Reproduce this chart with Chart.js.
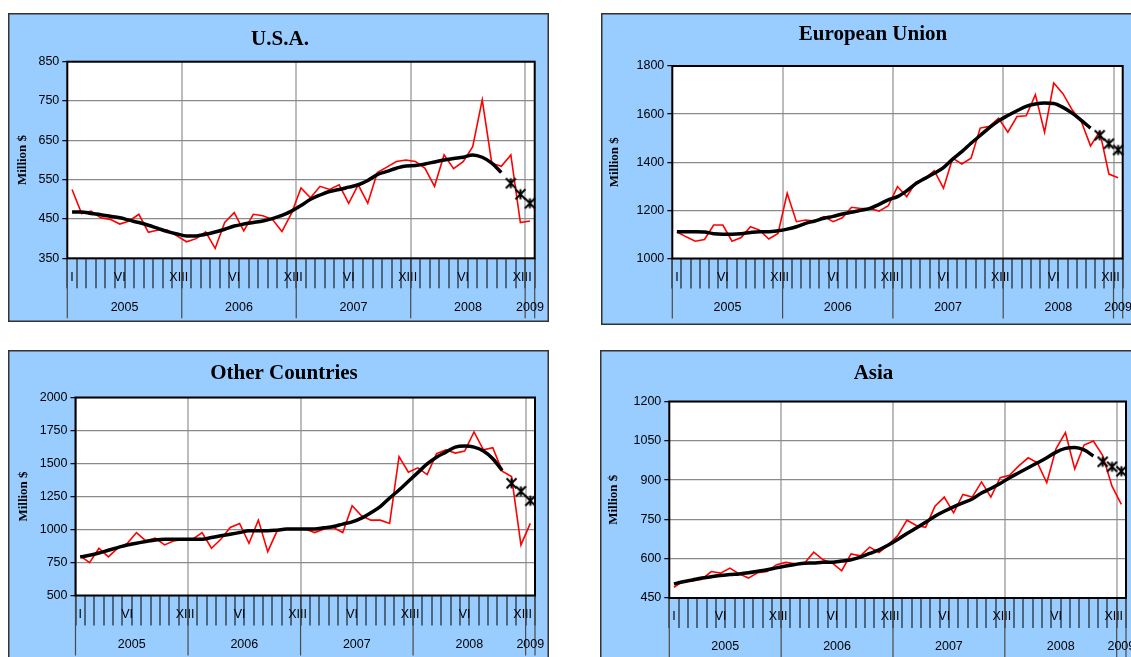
<!DOCTYPE html>
<html>
<head>
<meta charset="utf-8">
<script src="https://cdn.jsdelivr.net/npm/chart.js"></script>
<style>
html,body{margin:0;padding:0;background:#ffffff;overflow:hidden;width:1131px;height:657px;}
canvas{position:absolute;}
</style>
</head>
<body>
<canvas id="cUSA"></canvas>
<canvas id="cEU"></canvas>
<canvas id="cOther"></canvas>
<canvas id="cAsia"></canvas>
<script>
// ---------------- DATA ----------------
const monthNames = ['I','II','III','IV','V','VI','VII','VIII','IX','X','XI','XII'];
const years = ['2005','2006','2007','2008','2009'];
const monthsPerYear = [12, 12, 12, 12, 1];
const shownMonths = ['I','VI','XII'];

const usaMonthly = [525,464,470,453,449,437,445,462,416,422,422,407,392,400,417,375,441,466,420,462,458,449,418,464,529,504,533,525,537,490,537,490,568,582,596,600,596,579,533,613,578,596,634,753,592,584,613,441,445];
const usaTrend = [468,468,464,461,457,453,447,441,434,426,418,412,407,407,411,417,424,432,437,441,445,451,459,470,484,500,511,520,525,531,537,548,563,571,579,585,586,590,595,600,604,607,613,607,592,568];
const usaForecast = [541,513,490];
const usaYTicks = [350,450,550,650,750,850];

const euMonthly = [1111,1090,1072,1079,1139,1139,1072,1087,1132,1118,1081,1104,1271,1153,1160,1156,1174,1153,1169,1213,1208,1208,1197,1219,1299,1257,1317,1333,1365,1292,1417,1393,1417,1542,1549,1583,1525,1590,1593,1681,1525,1729,1685,1618,1569,1468,1528,1351,1336];
const euTrend = [1111,1111,1111,1110,1103,1101,1101,1103,1108,1111,1111,1115,1122,1132,1146,1156,1167,1175,1185,1192,1200,1208,1225,1244,1257,1281,1311,1333,1354,1378,1413,1444,1479,1511,1544,1572,1594,1614,1632,1642,1646,1644,1628,1604,1574,1542];
const euForecast = [1512,1477,1451];
const euYTicks = [1000,1200,1400,1600,1800];

const otherMonthly = [800,749,858,792,858,893,977,914,934,883,914,926,926,977,858,926,1015,1046,896,1071,832,990,1003,1003,1003,977,1003,1015,977,1180,1104,1071,1071,1046,1553,1434,1467,1416,1574,1604,1579,1594,1739,1604,1619,1442,1401,883,1046];
const otherTrend = [792,805,822,843,863,883,896,909,921,926,926,926,926,926,939,952,964,977,990,990,990,995,1003,1003,1003,1003,1013,1023,1041,1058,1086,1127,1173,1239,1299,1365,1431,1497,1548,1586,1624,1632,1624,1594,1536,1447];
const otherForecast = [1350,1289,1218];
const otherYTicks = [500,750,1000,1250,1500,1750,2000];

const asiaMonthly = [491,515,515,522,551,545,564,542,526,547,551,577,586,581,583,625,596,583,554,618,611,644,624,653,688,747,727,720,800,835,775,845,835,893,835,909,918,954,985,966,890,1020,1081,943,1034,1049,994,877,807];
const asiaTrend = [504,512,519,526,531,536,540,542,546,552,558,565,572,578,583,584,586,586,591,596,606,620,634,652,673,696,717,739,762,781,798,813,828,851,868,887,909,928,947,966,985,1007,1021,1024,1015,992];
const asiaForecast = [970,951,934];
const asiaYTicks = [450,600,750,900,1050,1200];

// category labels built from months/years
const categories = [];
years.forEach((y, yi) => { for (let m = 0; m < monthsPerYear[yi]; m++) categories.push(monthNames[m]); });

// ---------------- LAYOUT (page px) ----------------
const layoutUSA   = {box:[8,13,549,322],   plot:[67.3,61.7,534.7,258.3],  titleX:280,   titleY:40,    yLabX:22.5};
const layoutEU    = {box:[601,13,1142,325], plot:[672.3,66,1122.7,258.5], titleX:873,   titleY:34.5,  yLabX:615};
const layoutOther = {box:[8,350,549,662],  plot:[75.5,397.5,535,595.5],   titleX:284,   titleY:373.5, yLabX:24};
const layoutAsia  = {box:[600,350,1141,662], plot:[669.3,401.5,1126,598], titleX:873.5, titleY:373.8, yLabX:614};

const SANS = "'Liberation Sans', Arial, sans-serif";
const SERIF = "'Liberation Serif', 'Times New Roman', serif";
Chart.defaults.font.family = SANS;
Chart.defaults.color = '#000';

function makeStar() {
  const c = document.createElement('canvas');
  c.width = 13; c.height = 13;
  const g = c.getContext('2d');
  g.strokeStyle = '#000'; g.lineWidth = 2;
  g.lineCap = 'butt';
  g.beginPath();
  g.moveTo(1.5, 1.5); g.lineTo(11.5, 11.5);
  g.moveTo(11.5, 1.5); g.lineTo(1.5, 11.5);
  g.moveTo(6.5, 1.5); g.lineTo(6.5, 11.5);
  g.stroke();
  return c;
}
const starImg = makeStar();

const panelPlugin = {
  id: 'panelDeco',
  beforeDraw(chart) {
    const {ctx, width, height, chartArea: a} = chart;
    ctx.save();
    ctx.fillStyle = '#99ccff';
    ctx.fillRect(0, 0, width, height);
    ctx.fillStyle = '#ffffff';
    ctx.fillRect(a.left, a.top, a.right - a.left, a.bottom - a.top);
    ctx.strokeStyle = '#333333';
    ctx.lineWidth = 1.5;
    ctx.strokeRect(0.75, 0.75, width - 1.5, height - 1.5);
    ctx.restore();
  },
  afterDraw(chart) {
    const {ctx, chartArea: a} = chart;
    const xs = chart.scales.x;
    ctx.save();
    // year boundary lines
    ctx.strokeStyle = '#4a4a4a';
    ctx.lineWidth = 1.2;
    const bounds = [0];
    let acc = 0;
    monthsPerYear.forEach(n => { acc += n; bounds.push(acc); });
    bounds.forEach(b => {
      const x = xs.getPixelForValue(b - 0.5);
      ctx.beginPath(); ctx.moveTo(x, a.bottom); ctx.lineTo(x, a.bottom + 60); ctx.stroke();
    });
    // year labels
    ctx.fillStyle = '#000';
    ctx.font = '12.5px ' + SANS;
    ctx.textAlign = 'center';
    ctx.textBaseline = 'middle';
    let start = 0;
    years.forEach((y, yi) => {
      const first = start, last = start + monthsPerYear[yi] - 1;
      const cx = (xs.getPixelForValue(first) + xs.getPixelForValue(last)) / 2;
      ctx.fillText(y, cx, a.bottom + 49);
      start += monthsPerYear[yi];
    });
    // plot border
    ctx.strokeStyle = '#000';
    ctx.lineWidth = 2;
    ctx.strokeRect(a.left, a.top, a.right - a.left, a.bottom - a.top);
    ctx.restore();
  }
};

function makePanel(id, L, title, monthly, trend, forecast, yTicks) {
  const W = L.box[2] - L.box[0], H = L.box[3] - L.box[1];
  const cv = document.getElementById(id);
  cv.width = W; cv.height = H;
  cv.style.left = L.box[0] + 'px'; cv.style.top = L.box[1] + 'px';
  cv.style.width = W + 'px'; cv.style.height = H + 'px';

  const plotL = L.plot[0] - L.box[0], plotT = L.plot[1] - L.box[1];
  const plotR = L.plot[2] - L.box[0], plotB = L.plot[3] - L.box[1];
  const padL = 2 * (L.titleX - L.box[0]) - W;
  const tSize = 21, tLH = tSize * 1.2;
  const tPadTop = (L.titleY - L.box[1]) - tLH / 2;
  const tPadBot = plotT - tPadTop - tLH;
  const ySize = 13, yLH = ySize * 1.2;
  const yTitlePad = (L.yLabX - L.box[0]) - padL - yLH / 2;
  const tickFont = 12.5, tickLH = tickFont * 1.2;
  const xLabPad = 19 - 30 - tickLH / 2;

  const forecastData = new Array(monthly.length - forecast.length).fill(null).concat(forecast);

  return new Chart(cv, {
    type: 'line',
    data: {
      labels: categories,
      datasets: [
        {label: 'Trend', data: trend, borderColor: '#000', borderWidth: 3.5, pointRadius: 0,
         cubicInterpolationMode: 'monotone', fill: false},
        {label: 'Forecast', data: forecastData, showLine: false, pointStyle: starImg, pointRadius: 6,
         borderColor: '#000', backgroundColor: '#000', clip: 10},
        {label: 'Monthly', data: monthly, borderColor: '#ff0000', borderWidth: 1.6, pointRadius: 0,
         tension: 0, fill: false}
      ]
    },
    options: {
      responsive: false,
      maintainAspectRatio: false,
      devicePixelRatio: 1,
      animation: false,
      events: [],
      layout: {padding: {left: padL, right: 0, top: 0, bottom: 0}},
      plugins: {
        legend: {display: false},
        tooltip: {enabled: false},
        title: {display: true, text: title, color: '#000',
                font: {family: SERIF, size: tSize, weight: 'bold', lineHeight: 1.2},
                padding: {top: tPadTop, bottom: tPadBot}}
      },
      scales: {
        x: {
          type: 'category',
          offset: true,
          border: {display: false},
          grid: {
            offset: true,
            drawOnChartArea: true,
            color: c => (c.index % 12 === 0 ? '#bdbdbd' : 'rgba(0,0,0,0)'),
            lineWidth: 2,
            tickColor: '#000',
            tickWidth: 1,
            tickLength: 30
          },
          ticks: {
            autoSkip: false, maxRotation: 0, minRotation: 0,
            padding: xLabPad,
            font: {size: tickFont, lineHeight: 1.2},
            color: '#000',
            callback: (v, i) => (shownMonths.includes(categories[i]) ? categories[i] : '')
          },
          afterFit: s => { s.height = H - plotB; }
        },
        y: {
          type: 'linear',
          position: 'left',
          min: yTicks[0],
          max: yTicks[yTicks.length - 1],
          border: {display: false},
          grid: {color: '#8a8a8a', lineWidth: 1.3, tickColor: '#000', tickWidth: 1.2, tickLength: 5},
          ticks: {stepSize: yTicks[1] - yTicks[0], padding: 3, font: {size: tickFont}, color: '#000',
                  callback: v => String(v)},
          title: {display: true, text: 'Million $', color: '#000',
                  font: {family: SERIF, size: ySize, weight: 'bold', lineHeight: 1.2},
                  padding: {top: yTitlePad, bottom: 0}},
          afterFit: s => { s.width = plotL - padL; }
        },
        yR: {
          type: 'linear',
          position: 'right',
          display: true,
          border: {display: false},
          grid: {display: false},
          ticks: {display: false},
          afterFit: s => { s.width = W - plotR; }
        }
      }
    },
    plugins: [panelPlugin]
  });
}

makePanel('cUSA', layoutUSA, 'U.S.A.', usaMonthly, usaTrend, usaForecast, usaYTicks);
makePanel('cEU', layoutEU, 'European Union', euMonthly, euTrend, euForecast, euYTicks);
makePanel('cOther', layoutOther, 'Other Countries', otherMonthly, otherTrend, otherForecast, otherYTicks);
makePanel('cAsia', layoutAsia, 'Asia', asiaMonthly, asiaTrend, asiaForecast, asiaYTicks);
</script>
</body>
</html>
